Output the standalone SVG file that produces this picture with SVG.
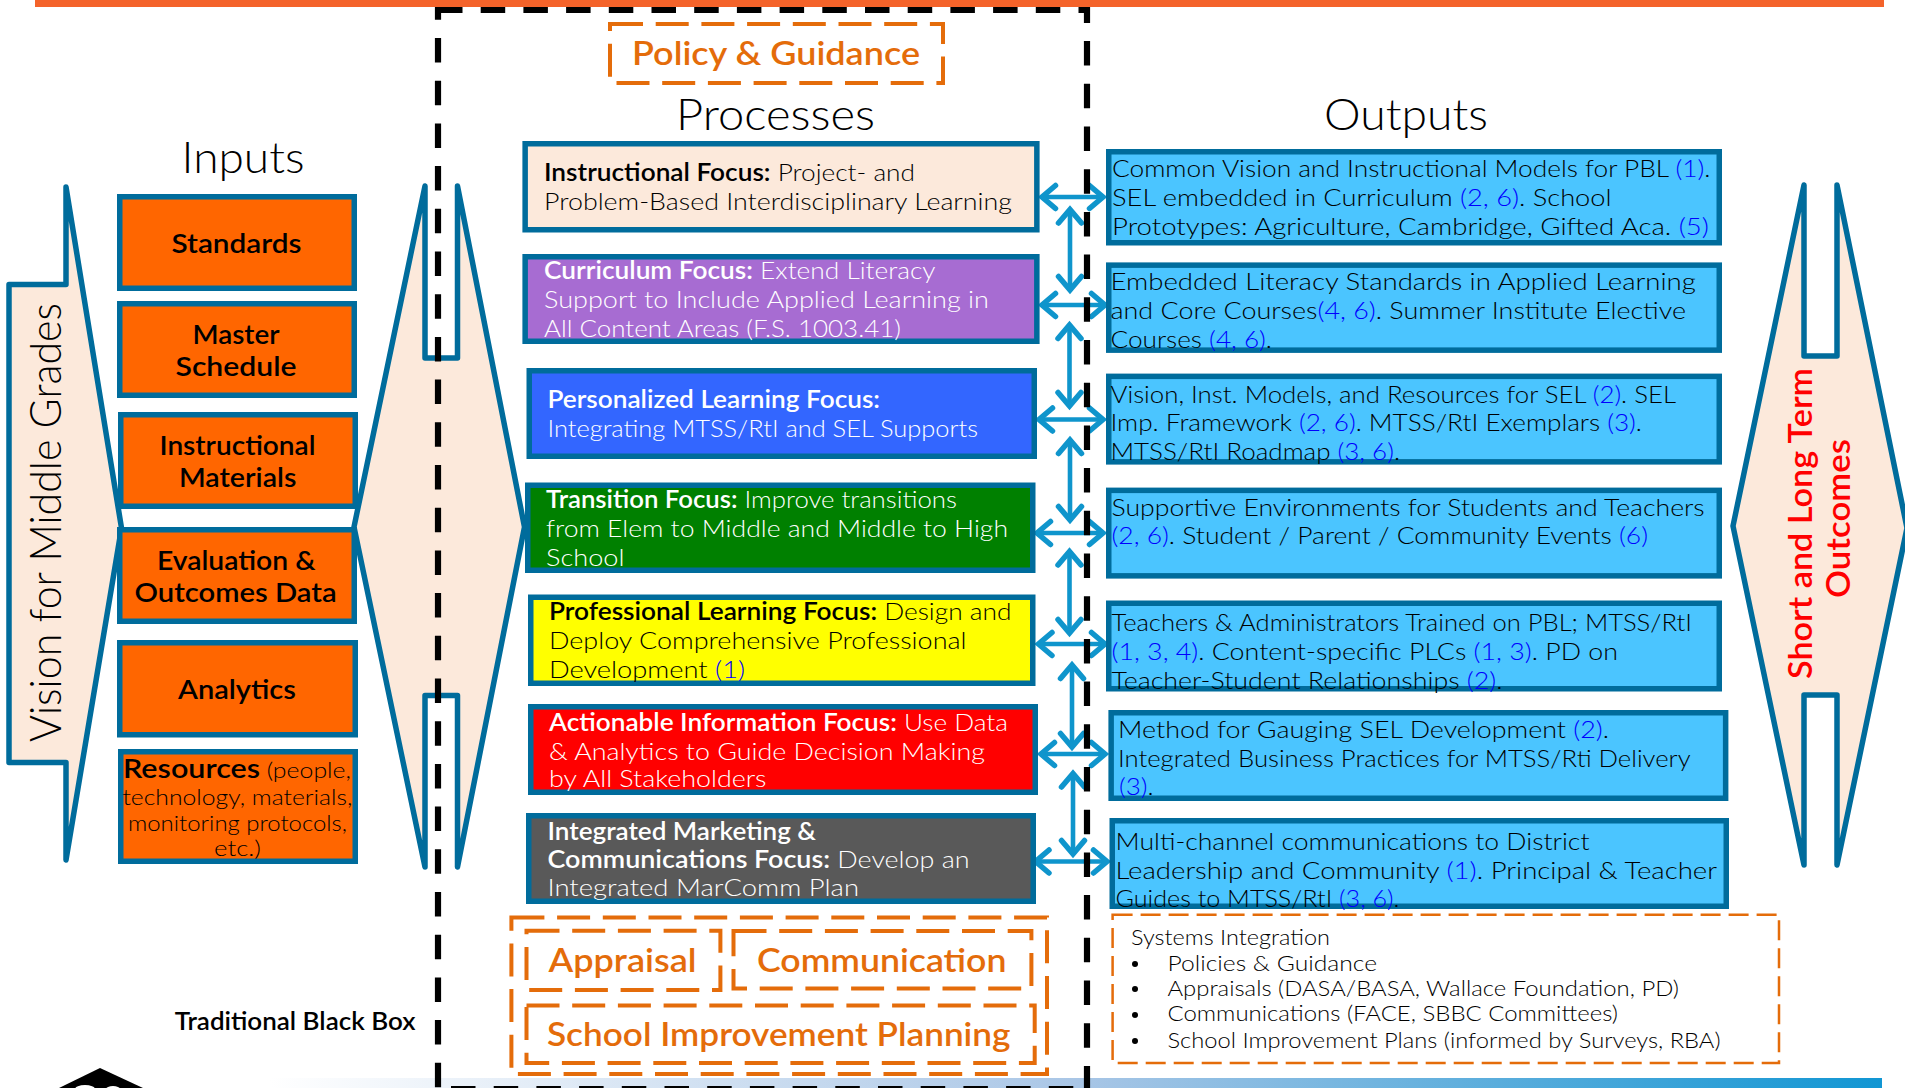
<svg xmlns="http://www.w3.org/2000/svg" width="1905" height="1088" viewBox="0 0 1905 1088">
<style>
text{font-family:Lato,"Open Sans","Liberation Sans",sans-serif;font-size:24px;fill:#000;font-weight:300}
.b,.b tspan{font-weight:600}
.u{fill:#0000ff}
.w,.w tspan{fill:#fff}
.k{stroke:#006c9c;stroke-width:5.5;stroke-linejoin:miter}
.ar{fill:#fce9db;stroke:#006c9c;stroke-width:5.5;stroke-linejoin:round}
.in{fill:#ff6600}
.ou{fill:#4bc5ff}
.it{font-size:27px;font-weight:600}
.ti{font-size:44px;font-weight:300}
.or{fill:none;stroke:#e46c0a;stroke-width:4;stroke-dasharray:33 12.7}
.ot{fill:#e46c0a;font-size:33px;font-weight:600}
.bk{fill:none;stroke:#000;stroke-width:6.2;stroke-dasharray:24.5 18.2}
.c{fill:none;stroke:#0f95cc;stroke-width:4.6;marker-start:url(#h);marker-end:url(#h)}
.s{font-size:21px}
.r{font-size:33px;font-weight:600;fill:#ff0000}
</style>
<defs>
<linearGradient id="g" x1="0" x2="1" y1="0" y2="0"><stop offset="0" stop-color="#ffffff"/><stop offset="0.5" stop-color="#a9c6e6"/><stop offset="1" stop-color="#1196d3"/></linearGradient>
<marker id="h" viewBox="-18 -16 24 32" refX="0" refY="0" markerWidth="24" markerHeight="32" markerUnits="userSpaceOnUse" orient="auto-start-reverse"><path d="M-13.5,-11.5 L0,0 L-13.5,11.5" fill="none" stroke="#0f95cc" stroke-width="5.5" stroke-linecap="round"/></marker>
</defs>
<rect x="270" y="1078" width="1612" height="10" fill="url(#g)"/>
<g id="logo"><polygon points="59,1088 100,1068 143,1088" fill="#000"/><ellipse cx="85" cy="1089" rx="10" ry="4" fill="#fff"/><ellipse cx="113" cy="1089" rx="7" ry="3" fill="#fff"/></g>

<g id="arrow-vision"><path class="ar" d="M9,284.5H66V187L121.5,528L66,860V762.5H9Z"/><text x="60.5" y="742" transform="rotate(-90 60.5 742)" textLength="439" lengthAdjust="spacingAndGlyphs" style="font-size:43px">Vision for Middle Grades</text></g>
<g id="arrow-processes"><path class="ar" d="M354,527L425,186V358H457.5V186L524.5,527L457.5,867V695.5H425V867Z"/></g>
<g id="arrow-outcomes"><path class="ar" d="M1733,526L1804,185V356H1837V185L1907,528L1837,865V695H1804V865Z"/>
<text class="r" x="1811.5" y="679" transform="rotate(-90 1811.5 679)" textLength="311" lengthAdjust="spacingAndGlyphs">Short and Long Term</text>
<text class="r" x="1850" y="598" transform="rotate(-90 1850 598)" textLength="159" lengthAdjust="spacingAndGlyphs">Outcomes</text></g>

<g id="inputs-title"><text class="ti" x="181.5" y="173" textLength="123" lengthAdjust="spacingAndGlyphs">Inputs</text></g>
<g id="processes-title"><text class="ti" x="676" y="130" textLength="199" lengthAdjust="spacingAndGlyphs">Processes</text></g>
<g id="outputs-title"><text class="ti" x="1324" y="130" textLength="164" lengthAdjust="spacingAndGlyphs">Outputs</text></g>

<g id="in-standards"><rect class="k in" x="119.75" y="196.75" width="234.5" height="91.5"/><text class="it" x="171.5" y="253" textLength="130" lengthAdjust="spacingAndGlyphs">Standards</text></g>
<g id="in-master"><rect class="k in" x="119.75" y="303.75" width="234.5" height="91.5"/><text class="it" x="192.5" y="343.7" textLength="87" lengthAdjust="spacingAndGlyphs">Master</text><text class="it" x="175.5" y="376" textLength="121" lengthAdjust="spacingAndGlyphs">Schedule</text></g>
<g id="in-materials"><rect class="k in" x="120.75" y="414.75" width="234.5" height="91.5"/><text class="it" x="159.5" y="454.5" textLength="156" lengthAdjust="spacingAndGlyphs">Instructional</text><text class="it" x="179" y="486.5" textLength="117.4" lengthAdjust="spacingAndGlyphs">Materials</text></g>
<g id="in-evaluation"><rect class="k in" x="119.75" y="529.75" width="234.5" height="91.5"/><text class="it" x="157" y="569.7" textLength="158.5" lengthAdjust="spacingAndGlyphs">Evaluation &amp;</text><text class="it" x="134.5" y="602" textLength="202.2" lengthAdjust="spacingAndGlyphs">Outcomes Data</text></g>
<g id="in-analytics"><rect class="k in" x="119.75" y="642.75" width="235.5" height="92"/><text class="it" x="178" y="699" textLength="118" lengthAdjust="spacingAndGlyphs">Analytics</text></g>
<g id="in-resources"><rect class="k in" x="120.75" y="751.75" width="234.5" height="109.5"/>
<text x="123" y="777.7" textLength="228" lengthAdjust="spacingAndGlyphs" style="font-size:22px"><tspan class="b" style="font-size:27px">Resources</tspan> (people,</text>
<text x="122.4" y="805" textLength="230" lengthAdjust="spacingAndGlyphs" style="font-size:22px">technology, materials,</text>
<text x="128" y="831" textLength="219" lengthAdjust="spacingAndGlyphs" style="font-size:22px">monitoring protocols,</text>
<text x="214" y="856" textLength="47" lengthAdjust="spacingAndGlyphs" style="font-size:22px">etc.)</text></g>

<g id="connectors">
<path class="c" d="M1042,197H1103"/><path class="c" d="M1042,305H1105"/><path class="c" d="M1039,419.5H1103"/><path class="c" d="M1037,533H1103"/><path class="c" d="M1038.5,644H1105"/><path class="c" d="M1041,754H1105"/><path class="c" d="M1035.5,861.5H1107"/>
<path class="c" d="M1070,209.5V290"/><path class="c" d="M1069.5,325V406"/><path class="c" d="M1070,440V520"/><path class="c" d="M1069.5,551.5V633"/><path class="c" d="M1072,665V747"/><path class="c" d="M1073,773.5V854"/>
</g>

<g id="black-box">
<path class="bk" d="M438,10H1090"/><path class="bk" d="M1087,-1.6V1088"/><path class="bk" d="M438,-4.7V1088"/><path class="bk" d="M451,1089H1087"/>
</g>
<rect id="top-bar" x="35" y="0" width="1849" height="7" fill="#f4632a"/>

<g id="policy"><rect class="or" x="610" y="24" width="333" height="59"/><text class="ot" x="632" y="65.4" textLength="288" lengthAdjust="spacingAndGlyphs">Policy &amp; Guidance</text></g>

<g id="p-instructional"><rect class="k" fill="#fce9db" x="525.15" y="143.75" width="511.7" height="86"/>
<text x="544" y="181" textLength="371" lengthAdjust="spacingAndGlyphs"><tspan class="b">Instructional Focus:</tspan> Project- and</text>
<text x="544" y="209.5" textLength="468" lengthAdjust="spacingAndGlyphs">Problem-Based Interdisciplinary Learning</text></g>
<g id="p-curriculum"><rect class="k" fill="#a76cd2" x="525.15" y="256.75" width="511.7" height="84.5"/>
<text class="w" x="544" y="279" textLength="391.5" lengthAdjust="spacingAndGlyphs"><tspan class="b">Curriculum Focus:</tspan> Extend Literacy</text>
<text class="w" x="544" y="307.5" textLength="445" lengthAdjust="spacingAndGlyphs">Support to Include Applied Learning in</text>
<text class="w" x="544" y="337" textLength="357" lengthAdjust="spacingAndGlyphs">All Content Areas (F.S. 1003.41)</text></g>
<g id="p-personalized"><rect class="k" fill="#3366ff" x="529.25" y="370.75" width="505" height="85.5"/>
<text class="w b" x="547.5" y="408" textLength="332.5" lengthAdjust="spacingAndGlyphs">Personalized Learning Focus:</text>
<text class="w" x="547.5" y="436.6" textLength="430.5" lengthAdjust="spacingAndGlyphs">Integrating MTSS/RtI and SEL Supports</text></g>
<g id="p-transition"><rect class="k" fill="#008000" x="527.75" y="485.25" width="505" height="85"/>
<text class="w" x="546" y="508" textLength="411" lengthAdjust="spacingAndGlyphs"><tspan class="b">Transition Focus:</tspan> Improve transitions</text>
<text class="w" x="546" y="536.5" textLength="462" lengthAdjust="spacingAndGlyphs">from Elem to Middle and Middle to High</text>
<text class="w" x="546" y="565.5" textLength="78.5" lengthAdjust="spacingAndGlyphs">School</text></g>
<g id="p-professional"><rect class="k" fill="#ffff00" x="530.75" y="597.25" width="502" height="86"/>
<text x="549" y="620" textLength="462.4" lengthAdjust="spacingAndGlyphs"><tspan class="b">Professional Learning Focus:</tspan> Design and</text>
<text x="549" y="649.4" textLength="417.5" lengthAdjust="spacingAndGlyphs">Deploy Comprehensive Professional</text>
<text x="549" y="678" textLength="196" lengthAdjust="spacingAndGlyphs">Development <tspan class="u">(1)</tspan></text></g>
<g id="p-actionable"><rect class="k" fill="#ff0000" x="530.75" y="706.75" width="504.5" height="85.5"/>
<text class="w" x="549" y="730.5" textLength="459" lengthAdjust="spacingAndGlyphs"><tspan class="b">Actionable Information Focus:</tspan> Use Data</text>
<text class="w" x="549" y="759.5" textLength="436" lengthAdjust="spacingAndGlyphs">&amp; Analytics to Guide Decision Making</text>
<text class="w" x="549" y="787" textLength="217.5" lengthAdjust="spacingAndGlyphs">by All Stakeholders</text></g>
<g id="p-marketing"><rect class="k" fill="#595959" x="528.75" y="815.75" width="504.5" height="85.5"/>
<text class="w b" x="547.5" y="839.5" textLength="268.5" lengthAdjust="spacingAndGlyphs">Integrated Marketing &amp;</text>
<text class="w" x="547.5" y="867.5" textLength="422" lengthAdjust="spacingAndGlyphs"><tspan class="b">Communications Focus:</tspan> Develop an</text>
<text class="w" x="547.5" y="896" textLength="311.5" lengthAdjust="spacingAndGlyphs">Integrated MarComm Plan</text></g>

<g id="o-vision"><rect class="k ou" x="1108.75" y="151.75" width="610.5" height="91"/>
<text x="1112" y="176.7" textLength="598.5" lengthAdjust="spacingAndGlyphs">Common Vision and Instructional Models for PBL <tspan class="u">(1)</tspan>.</text>
<text x="1112" y="205.6" textLength="499.6" lengthAdjust="spacingAndGlyphs">SEL embedded in Curriculum <tspan class="u">(2, 6)</tspan>.  School</text>
<text x="1112" y="234.5" textLength="597" lengthAdjust="spacingAndGlyphs">Prototypes: Agriculture, Cambridge, Gifted Aca. <tspan class="u">(5)</tspan></text></g>
<g id="o-literacy"><rect class="k ou" x="1108.75" y="265.15" width="610.5" height="85"/>
<text x="1110.5" y="290" textLength="585.3" lengthAdjust="spacingAndGlyphs">Embedded Literacy Standards in Applied Learning</text>
<text x="1110.5" y="318.5" textLength="575.5" lengthAdjust="spacingAndGlyphs">and Core Courses<tspan class="u">(4, 6)</tspan>.  Summer Institute Elective</text>
<text x="1110.5" y="347.5" textLength="161.5" lengthAdjust="spacingAndGlyphs">Courses <tspan class="u">(4, 6)</tspan>.</text></g>
<g id="o-sel"><rect class="k ou" x="1108.75" y="376.35" width="610.5" height="85.5"/>
<text x="1110.5" y="403" textLength="565.5" lengthAdjust="spacingAndGlyphs">Vision, Inst. Models, and Resources for SEL <tspan class="u">(2)</tspan>. SEL</text>
<text x="1110.5" y="431" textLength="531.5" lengthAdjust="spacingAndGlyphs">Imp. Framework <tspan class="u">(2, 6)</tspan>.  MTSS/RtI Exemplars <tspan class="u">(3)</tspan>.</text>
<text x="1110.5" y="459.7" textLength="289.5" lengthAdjust="spacingAndGlyphs">MTSS/RtI Roadmap <tspan class="u">(3, 6)</tspan>.</text></g>
<g id="o-supportive"><rect class="k ou" x="1108.75" y="490.35" width="610.5" height="85.5"/>
<text x="1111.5" y="516" textLength="593.2" lengthAdjust="spacingAndGlyphs">Supportive Environments for Students and Teachers</text>
<text x="1111.5" y="544" textLength="536.5" lengthAdjust="spacingAndGlyphs"><tspan class="u">(2, 6)</tspan>. Student / Parent / Community Events <tspan class="u">(6)</tspan></text></g>
<g id="o-teachers"><rect class="k ou" x="1108.75" y="603.25" width="610.5" height="85.5"/>
<text x="1111.5" y="631" textLength="580.5" lengthAdjust="spacingAndGlyphs">Teachers &amp; Administrators Trained on PBL; MTSS/RtI</text>
<text x="1111.5" y="660" textLength="506.5" lengthAdjust="spacingAndGlyphs"><tspan class="u">(1, 3, 4)</tspan>.  Content-specific PLCs <tspan class="u">(1, 3)</tspan>. PD on</text>
<text x="1111.5" y="688.5" textLength="391" lengthAdjust="spacingAndGlyphs">Teacher-Student Relationships <tspan class="u">(2)</tspan>.</text></g>
<g id="o-method"><rect class="k ou" x="1111.15" y="712.75" width="614.5" height="85.5"/>
<text x="1118" y="738" textLength="491" lengthAdjust="spacingAndGlyphs">Method for Gauging SEL Development <tspan class="u">(2)</tspan>.</text>
<text x="1118" y="767" textLength="572.5" lengthAdjust="spacingAndGlyphs">Integrated Business Practices for MTSS/Rti Delivery</text>
<text x="1119" y="795" textLength="34.5" lengthAdjust="spacingAndGlyphs"><tspan class="u">(3)</tspan>.</text></g>
<g id="o-multichannel"><rect class="k ou" x="1112.25" y="820.75" width="614" height="85.5"/>
<text x="1115.5" y="850" textLength="474" lengthAdjust="spacingAndGlyphs">Multi-channel communications to District</text>
<text x="1115.5" y="879" textLength="601.5" lengthAdjust="spacingAndGlyphs">Leadership and Community <tspan class="u">(1)</tspan>. Principal &amp; Teacher</text>
<text x="1115.5" y="907" textLength="284" lengthAdjust="spacingAndGlyphs">Guides to MTSS/RtI <tspan class="u">(3, 6)</tspan>.</text></g>

<g id="systems"><rect x="1112.6" y="914.7" width="666.4" height="148.3" fill="none" stroke="#e46c0a" stroke-width="2.5" stroke-dasharray="20 8"/>
<text class="s" x="1131" y="944.5" textLength="199" lengthAdjust="spacingAndGlyphs">Systems Integration</text>
<circle cx="1135" cy="964" r="3"/><text class="s" x="1167.5" y="970.7" textLength="209.5" lengthAdjust="spacingAndGlyphs">Policies &amp; Guidance</text>
<circle cx="1135" cy="989" r="3"/><text class="s" x="1167.5" y="995.5" textLength="511.5" lengthAdjust="spacingAndGlyphs">Appraisals (DASA/BASA, Wallace Foundation, PD)</text>
<circle cx="1135" cy="1015" r="3"/><text class="s" x="1167.5" y="1021" textLength="450.5" lengthAdjust="spacingAndGlyphs">Communications (FACE, SBBC Committees)</text>
<circle cx="1135" cy="1041" r="3"/><text class="s" x="1167.5" y="1047.5" textLength="553" lengthAdjust="spacingAndGlyphs">School Improvement Plans (informed by Surveys, RBA)</text></g>

<rect id="frame-systems" class="or" x="511.4" y="917.5" width="535.6" height="156.5"/>
<g id="appraisal"><rect class="or" x="526.5" y="930.8" width="193.9" height="59.2"/><text class="ot" x="548.5" y="971.6" textLength="148" lengthAdjust="spacingAndGlyphs">Appraisal</text></g>
<g id="communication"><rect class="or" x="733.5" y="931" width="297.9" height="57.5"/><text class="ot" x="757" y="971.6" textLength="249.5" lengthAdjust="spacingAndGlyphs">Communication</text></g>
<g id="school"><rect class="or" x="526.5" y="1005.6" width="508.2" height="57.4"/><text class="ot" x="547" y="1046" textLength="463.5" lengthAdjust="spacingAndGlyphs">School Improvement Planning</text></g>
<g id="black-box-label"><text class="b" x="174.7" y="1030" textLength="240.8" lengthAdjust="spacingAndGlyphs">Traditional Black Box</text></g>
</svg>
